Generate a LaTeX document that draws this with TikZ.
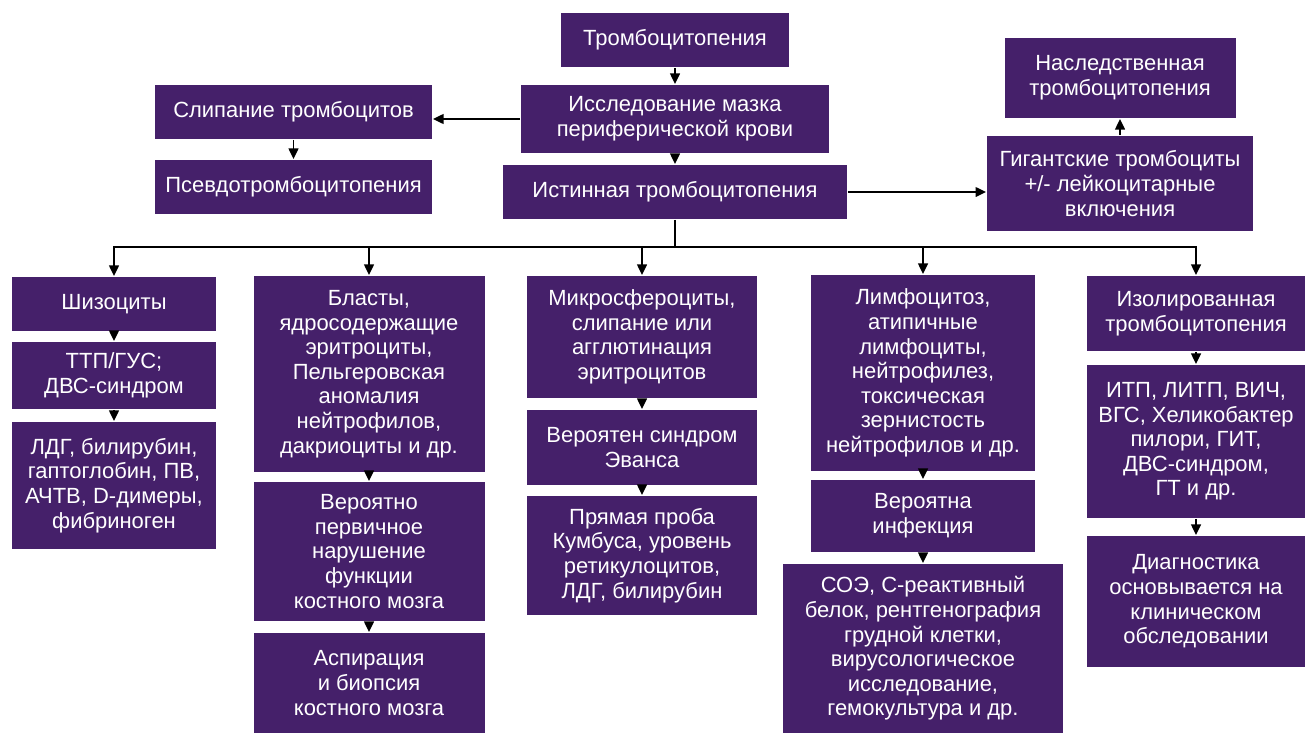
\documentclass[tikz,border=0pt]{standalone}
\usepackage{fontspec}
\setmainfont{Liberation Sans}
\usetikzlibrary{arrows.meta}
\definecolor{plum}{HTML}{45206A}
\tikzset{>/.tip={Triangle[length=6pt,width=5.5pt]},
  box/.style={fill=plum, text=white, align=center, inner sep=2pt,
    font=\fontsize{12.5}{14}\selectfont}}

\begin{document}
\begin{tikzpicture}[line width=1.1pt]
\useasboundingbox (0,0) rectangle (26.12,-14.66);
% top part
\node[box, minimum width=4.56cm, minimum height=1.08cm] (topn) at (13.5,-0.8) {Тромбоцитопения};
\node[box, minimum width=6.16cm, minimum height=1.36cm] (smear) at (13.5,-2.38) {Исследование мазка\\периферической крови};
\node[box, minimum width=5.54cm, minimum height=1.08cm] (clump) at (5.87,-2.24) {Слипание тромбоцитов};
\node[box, minimum width=5.54cm, minimum height=1.08cm] (pseudo) at (5.87,-3.74) {Псевдотромбоцитопения};
\node[box, minimum width=6.88cm, minimum height=1.08cm] (truetp) at (13.5,-3.84) {Истинная тромбоцитопения};
\node[box, minimum width=4.62cm, minimum height=1.6cm] (hered) at (22.4,-1.56) {Наследственная\\тромбоцитопения};
\node[box, minimum width=5.32cm, minimum height=1.9cm] (giant) at (22.4,-3.67) {Гигантские тромбоциты\\+/- лейкоцитарные\\включения};

% column 1
\node[box, minimum width=4.08cm, minimum height=1.08cm] (schiz) at (2.28,-6.08) {Шизоциты};
\node[box, minimum width=4.08cm, minimum height=1.34cm] (ttp) at (2.28,-7.51) {ТТП/ГУС;\\ДВС-синдром};
\node[box, minimum width=4.08cm, minimum height=2.54cm] (ldg) at (2.28,-9.71) {ЛДГ, билирубин,\\гаптоглобин, ПВ,\\АЧТВ, D-димеры,\\фибриноген};
% column 2
\node[box, minimum width=4.62cm, minimum height=3.92cm] (blast) at (7.38,-7.48) {Бласты,\\ядросодержащие\\эритроциты,\\Пельгеровская\\аномалия\\нейтрофилов,\\дакриоциты и др.};
\node[box, minimum width=4.62cm, minimum height=2.78cm] (primbm) at (7.38,-11.03) {Вероятно\\первичное\\нарушение\\функции\\костного мозга};
\node[box, minimum width=4.62cm, minimum height=2.0cm] (aspir) at (7.38,-13.66) {Аспирация\\и биопсия\\костного мозга};
% column 3
\node[box, minimum width=4.6cm, minimum height=2.44cm] (micro) at (12.84,-6.74) {Микросфероциты,\\слипание или\\агглютинация\\эритроцитов};
\node[box, minimum width=4.6cm, minimum height=1.5cm] (evans) at (12.84,-8.95) {Вероятен синдром\\Эванса};
\node[box, minimum width=4.6cm, minimum height=2.38cm] (coombs) at (12.84,-11.11) {Прямая проба\\Кумбуса, уровень\\ретикулоцитов,\\ЛДГ, билирубин};
% column 4
\node[box, minimum width=4.48cm, minimum height=3.92cm] (lymph) at (18.46,-7.46) {Лимфоцитоз,\\атипичные\\лимфоциты,\\нейтрофилез,\\токсическая\\зернистость\\нейтрофилов и др.};
\node[box, minimum width=4.48cm, minimum height=1.44cm] (infect) at (18.46,-10.32) {Вероятна\\инфекция};
\node[box, minimum width=5.6cm, minimum height=3.38cm] (esr) at (18.46,-12.97) {СОЭ, С-реактивный\\белок, рентгенография\\грудной клетки,\\вирусологическое\\исследование,\\гемокультура и др.};
% column 5
\node[box, minimum width=4.36cm, minimum height=1.5cm] (isol) at (23.92,-6.27) {Изолированная\\тромбоцитопения};
\node[box, minimum width=4.36cm, minimum height=3.06cm] (itp) at (23.92,-8.83) {ИТП, ЛИТП, ВИЧ,\\ВГС, Хеликобактер\\пилори, ГИТ,\\ДВС-синдром,\\ГТ и др.};
\node[box, minimum width=4.36cm, minimum height=2.62cm] (clin) at (23.92,-12.03) {Диагностика\\основывается на\\клиническом\\обследовании};

% arrows
\draw[->] (topn) -- (smear);
\draw[->] (smear) -- (truetp);
\draw[->] (smear.west) -- (smear.west -| clump.east);
\draw[->] (clump) -- (pseudo);
\draw[->] (truetp.east) -- (truetp.east -| giant.west);
\draw[->] (giant) -- (hered);
\draw (truetp.south) -- ++(0,-0.54) coordinate (bus);
\draw[->] (bus) -| (schiz.north);
\draw[->] (bus) -| (blast.north);
\draw[->] (bus) -| (micro.north);
\draw[->] (bus) -| (lymph.north);
\draw[->] (bus) -| (isol.north);
\draw[->] (schiz) -- (ttp);
\draw[->] (ttp) -- (ldg);
\draw[->] (blast) -- (primbm);
\draw[->] (primbm) -- (aspir);
\draw[->] (micro) -- (evans);
\draw[->] (evans) -- (coombs);
\draw[->] (lymph) -- (infect);
\draw[->] (infect) -- (esr);
\draw[->] (isol) -- (itp);
\draw[->] (itp) -- (clin);
\end{tikzpicture}
\end{document}
